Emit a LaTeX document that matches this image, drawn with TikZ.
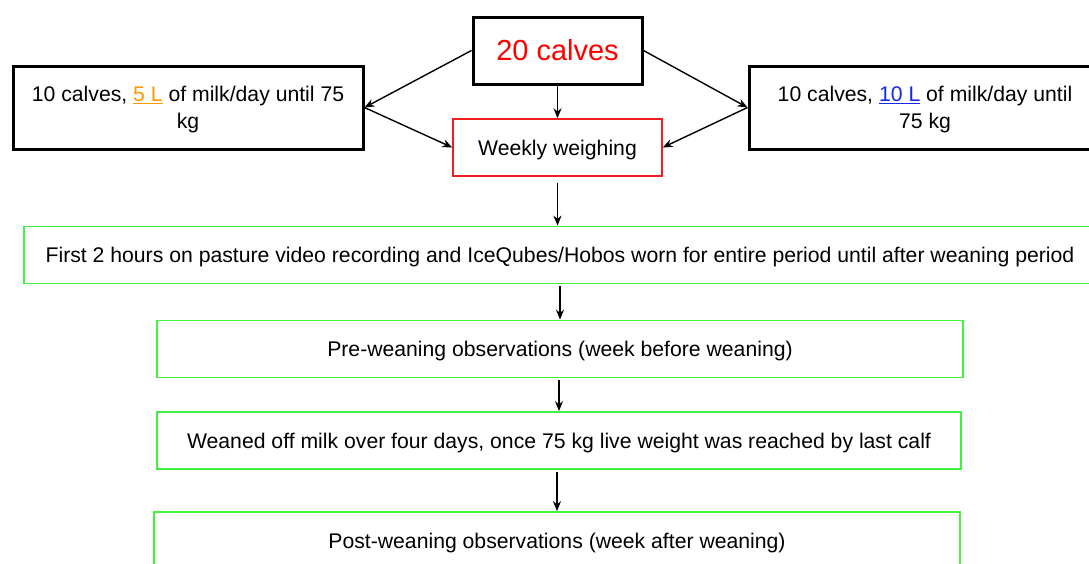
\documentclass[tikz,border=0pt]{standalone}
\usepackage{fontspec}
\setmainfont{Liberation Sans}
\usetikzlibrary{arrows.meta, positioning}
\definecolor{calfRed}{RGB}{255, 0, 0}
\definecolor{weighRed}{RGB}{240, 30, 30}
\definecolor{stageGreen}{RGB}{66, 242, 66}
\definecolor{milkOrange}{RGB}{255, 153, 0}
\definecolor{milkBlue}{RGB}{20, 40, 235}
\tikzset{
  groupBox/.style={
    draw=black,
    line width=3pt,
    fill=white,
    minimum height=83pt,
    align=center,
    text depth=0pt,
    font=\fontsize{21.2}{27}\selectfont
  },
  calvesBox/.style={
    draw=black,
    line width=3pt,
    fill=white,
    minimum width=169pt,
    minimum height=67pt,
    font=\fontsize{29}{34}\selectfont\color{calfRed}
  },
  weighBox/.style={
    draw=weighRed,
    line width=1.4pt,
    fill=white,
    minimum width=209pt,
    minimum height=57pt,
    text depth=0pt,
    font=\fontsize{21.2}{26}\selectfont
  },
  stageBox/.style={
    draw=stageGreen,
    line width=1.8pt,
    fill=white,
    minimum width=806pt,
    minimum height=57pt,
    text depth=0pt,
    font=\fontsize{21.2}{26}\selectfont
  },
  flowArrow/.style={
    ->,
    >={Stealth[length=10pt,width=8pt]},
    line width=1.4pt,
    draw=black
  }
}

\begin{document}
\begin{tikzpicture}[x=1pt, y=-1pt]
  \useasboundingbox (0,0) rectangle (1089,563);
  \fill[white] (0,0) rectangle (1089,563);
  \clip (0,0) rectangle (1089,563);
  % top: the two groups and the weighing
  \node[calvesBox] (calves) at (557.5,50.5) {20 calves};
  \node[groupBox, minimum width=350pt] (milkFive) at (188,107.5)
    {10 calves, \textcolor{milkOrange}{\underline{5 L}} of milk/day until 75\\kg};
  \node[groupBox, minimum width=352pt] (milkTen) at (925,107.5)
    {10 calves, \textcolor{milkBlue}{\underline{10 L}} of milk/day until\\75 kg};
  \node[weighBox] (weigh) at (557.5,147.5) {Weekly weighing};
  % stages down the page
  \node[stageBox, minimum width=1072pt] (pasture) at (560,255)
    {First 2 hours on pasture video recording and IceQubes/Hobos worn for entire period until after weaning period};
  \node[stageBox] (preWean) at (560,349) {Pre-weaning observations (week before weaning)};
  \node[stageBox, minimum width=804pt] (weanOff) at (559,440.5)
    {Weaned off milk over four days, once 75 kg live weight was reached by last calf};
  \node[stageBox] (postWean) at (557,540.5) {Post-weaning observations (week after weaning)};

  \draw[flowArrow] (calves.west) -- (milkFive.east);
  \draw[flowArrow] (milkFive.east) -- (weigh.west);
  \draw[flowArrow] (calves.south) -- (weigh.north);
  \draw[flowArrow] (calves.east) -- (milkTen.west);
  \draw[flowArrow] (milkTen.west) -- (weigh.east);
  \draw[flowArrow, shorten <=6pt] (weigh.south) -- (weigh.south |- pasture.north);
  \draw[flowArrow, shorten <=2pt] (preWean.north |- pasture.south) -- (preWean.north);
  \draw[flowArrow, shorten <=2pt] (weanOff.north |- preWean.south) -- (weanOff.north);
  \draw[flowArrow, shorten <=2pt] (postWean.north |- weanOff.south) -- (postWean.north);
\end{tikzpicture}
\end{document}
